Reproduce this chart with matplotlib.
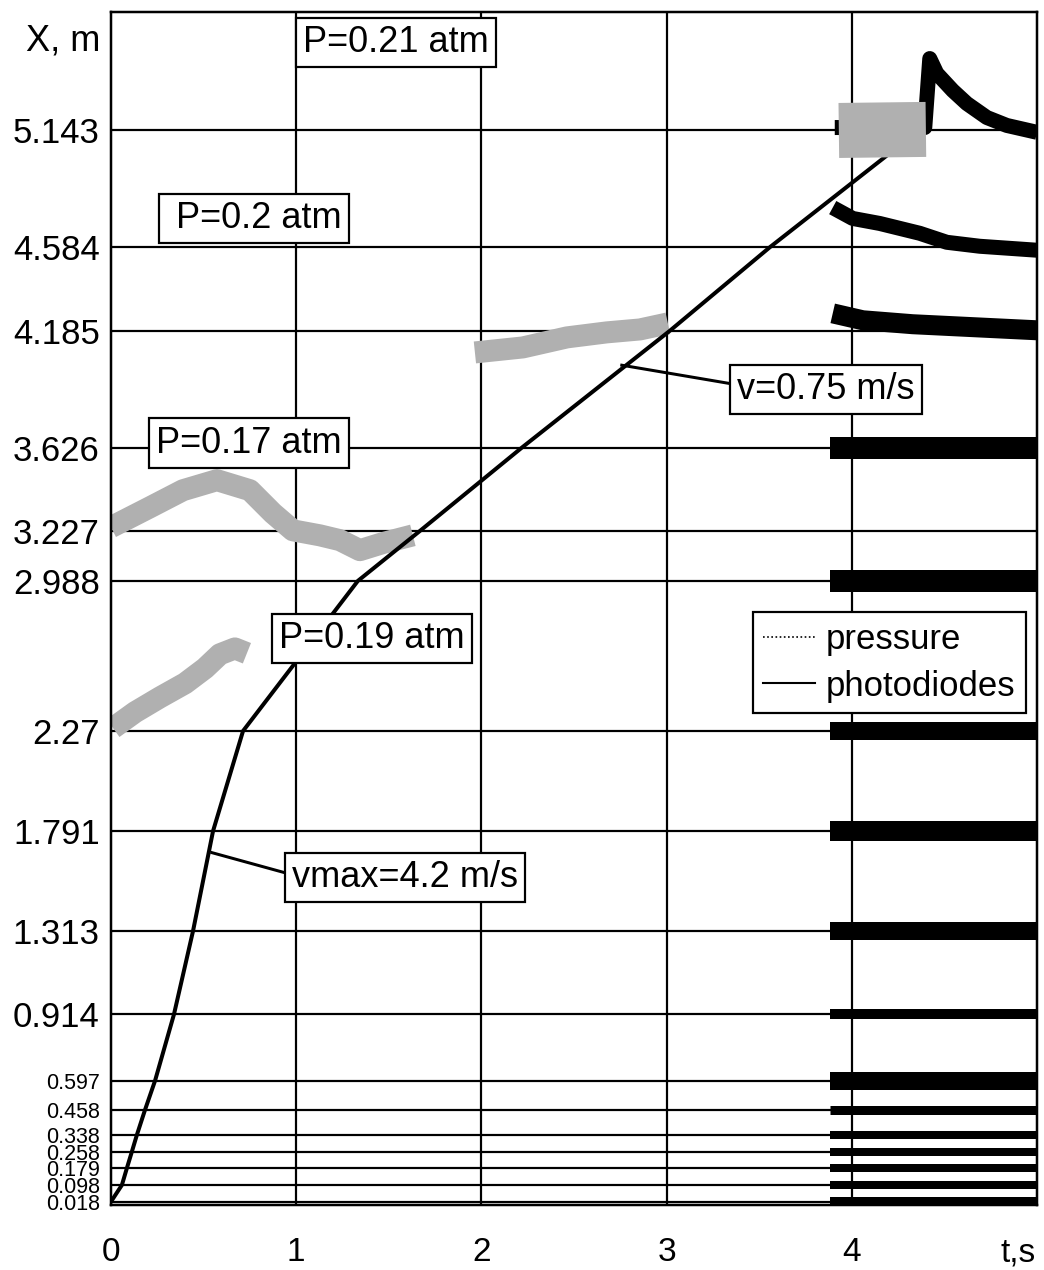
import numpy as np
import matplotlib.pyplot as plt
from matplotlib.lines import Line2D

plt.rcParams['font.family'] = ['Liberation Sans', 'DejaVu Sans']

# sensor positions along the tube, m
sensor_x = [0.018, 0.098, 0.179, 0.258, 0.338, 0.458, 0.597, 0.914, 1.313,
            1.791, 2.27, 2.988, 3.227, 3.626, 4.185, 4.584, 5.143]
sensor_labels = ['0.018', '0.098', '0.179', '0.258', '0.338', '0.458', '0.597',
                 '0.914', '1.313', '1.791', '2.27', '2.988', '3.227', '3.626',
                 '4.185', '4.584', '5.143']
# time the front passes each sensor, s
arrival_t = [0.0, 0.059, 0.086, 0.113, 0.14, 0.184, 0.238, 0.34, 0.443,
             0.551, 0.713, 1.333, 1.668, 2.219, 3.018, 3.557, 4.362]

# pressure records, plotted at their gauge positions
p019_t = [0.011, 0.13, 0.265, 0.40, 0.508, 0.588, 0.669, 0.734]
p019_x = [2.284, 2.36, 2.431, 2.498, 2.57, 2.637, 2.665, 2.642]
p017_t = [0.0, 0.21, 0.389, 0.572, 0.75, 0.874, 0.982, 1.128, 1.236, 1.344, 1.468, 1.63]
p017_x = [3.245, 3.34, 3.422, 3.47, 3.422, 3.312, 3.23, 3.206, 3.183, 3.135, 3.169, 3.206]
p020_t = [1.965, 2.224, 2.462, 2.677, 2.856, 3.007]
p020_x = [4.081, 4.105, 4.153, 4.177, 4.191, 4.22]
p021_t = [3.93, 4.40]
p021_x = [5.143, 5.148]

# photodiode records
pd_t0 = 3.88
pd_levels = [0.018, 0.098, 0.179, 0.258, 0.338, 0.458, 0.597, 0.914, 1.313,
             1.791, 2.27, 2.988, 3.626]
pd_widths = [10, 8, 8, 8, 8, 9, 18, 10, 18, 20, 18, 22, 22]   # band thickness, px
pd4185_t = [3.897, 4.059, 4.329, 5.0]
pd4185_x = [4.268, 4.235, 4.216, 4.187]
pd4584_t = [3.897, 4.005, 4.151, 4.367, 4.513, 4.691, 5.0]
pd4584_x = [4.774, 4.722, 4.698, 4.651, 4.608, 4.589, 4.57]
pd5143_t = [3.908, 4.394, 4.421, 4.459, 4.545, 4.621, 4.729, 4.837, 5.0]
pd5143_x = [5.157, 5.157, 5.487, 5.416, 5.334, 5.272, 5.205, 5.167, 5.134]

time_ticks = [0, 1, 2, 3, 4, 4.9]
time_labels = ['0', '1', '2', '3', '4', 't,s']

px = 0.72  # points per pixel at dpi 100
gray = '#b0b0b0'

fig = plt.figure(figsize=(10.44, 12.7), dpi=100)
ax = fig.add_axes([0.1063, 0.0508, 0.887, 0.9398])
ax.set_xlim(0, 5)
ax.set_ylim(0, 5.71)

for y in sensor_x:
    ax.axhline(y, color='black', lw=2.2 * px, zorder=1)
for t in [1, 2, 3, 4]:
    ax.axvline(t, color='black', lw=2.2 * px, zorder=1)

# photodiode traces
for lev, w in zip(pd_levels, pd_widths):
    ax.plot([pd_t0, 5.0], [lev, lev], color='black', lw=w * px,
            solid_capstyle='butt', zorder=3)
ax.plot(pd4185_t, pd4185_x, color='black', lw=20 * px, solid_capstyle='butt', zorder=3)
ax.plot(pd4584_t, pd4584_x, color='black', lw=15 * px, solid_capstyle='butt', zorder=3)
ax.plot(pd5143_t, pd5143_x, color='black', lw=15 * px, solid_capstyle='butt', zorder=3)

# pressure traces
for tt, xx in [(p019_t, p019_x), (p017_t, p017_x), (p020_t, p020_x)]:
    ax.plot(tt, xx, color=gray, lw=22 * px, solid_capstyle='butt',
            solid_joinstyle='round', zorder=2)
ax.plot(p021_t, p021_x, color=gray, lw=55 * px, solid_capstyle='butt', zorder=4)

# front trajectory
ax.plot(arrival_t, sensor_x, color='black', lw=4 * px, zorder=3)

# leaders
ax.plot([2.758, 3.33], [4.02, 3.934], color='black', lw=3 * px, zorder=3)
ax.plot([0.545, 0.955], [1.688, 1.588], color='black', lw=3 * px, zorder=3)

box = dict(boxstyle='square,pad=0.2', fc='white', ec='black', lw=2.2 * px)
notes = [(1.538, 5.564, 'P=0.21 atm'), (0.77, 4.722, ' P=0.2 atm'),
         (0.745, 3.647, 'P=0.17 atm'), (1.409, 2.713, 'P=0.19 atm'),
         (3.86, 3.904, 'v=0.75 m/s'), (1.587, 1.57, 'vmax=4.2 m/s')]
for t, y, s in notes:
    ax.text(t, y, s, ha='center', va='center', fontsize=26, bbox=box, zorder=6)

handles = [Line2D([], [], color='black', lw=1.2, ls=(0, (1, 1.5))),
           Line2D([], [], color='black', lw=1.5)]
leg = ax.legend(handles, ['pressure', 'photodiodes'], loc='upper left',
                bbox_to_anchor=(0.693, 0.497), borderaxespad=0, fontsize=25,
                handlelength=1.5, handletextpad=0.3, labelspacing=0.4,
                borderpad=0.3, fancybox=False, framealpha=1, edgecolor='black')
leg.get_frame().set_linewidth(2.2 * px)
leg.set_zorder(7)

ax.set_yticks(sensor_x)
ax.set_yticklabels(sensor_labels)
for lab, v in zip(ax.get_yticklabels(), sensor_x):
    lab.set_fontsize(15.5 if v < 0.6 else 25)
ax.set_xticks(time_ticks)
ax.set_xticklabels(time_labels, fontsize=24)
ax.tick_params(axis='y', length=0, pad=8)
ax.tick_params(axis='x', length=0, pad=23)
for sp in ax.spines.values():
    sp.set_linewidth(2.5 * px)

fig.text(100 / 1044, 1 - 41 / 1270, 'X, m', ha='right', va='center', fontsize=26)

fig.savefig('out.png', dpi=100)
